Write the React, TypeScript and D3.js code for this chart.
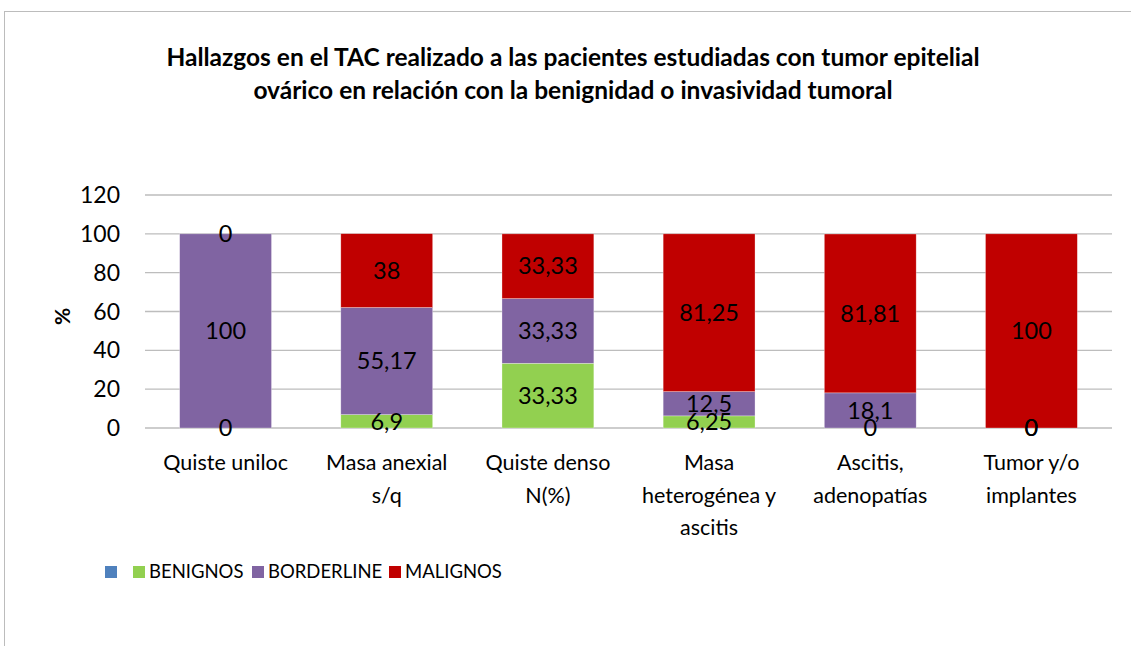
import React from 'react'
import * as d3 from 'd3'

const categories = [
  'Quiste uniloc',
  'Masa anexial s/q',
  'Quiste denso N(%)',
  'Masa heterogénea y ascitis',
  'Ascitis, adenopatías',
  'Tumor y/o implantes',
]
// how Excel wrapped the category labels
const categoryLines = [
  ['Quiste uniloc'],
  ['Masa anexial', 's/q'],
  ['Quiste denso', 'N(%)'],
  ['Masa', 'heterogénea y', 'ascitis'],
  ['Ascitis,', 'adenopatías'],
  ['Tumor y/o', 'implantes'],
]
const benignos = [0, 6.9, 33.33, 6.25, 0, 0]
const borderline = [100, 55.17, 33.33, 12.5, 18.1, 0]
const malignos = [0, 38, 33.33, 81.25, 81.81, 100]
const labelText = [
  ['0', '6,9', '33,33', '6,25', '0', '0'],
  ['100', '55,17', '33,33', '12,5', '18,1', '0'],
  ['0', '38', '33,33', '81,25', '81,81', '100'],
]
const seriesKeys = ['BENIGNOS', 'BORDERLINE', 'MALIGNOS']
const legendKeys = ['', 'BENIGNOS', 'BORDERLINE', 'MALIGNOS']
const yTicks = [0, 20, 40, 60, 80, 100, 120]

const colors: Record<string, string> = {
  '': '#4F81BD',
  BENIGNOS: '#92D050',
  BORDERLINE: '#8064A2',
  MALIGNOS: '#C00000',
}

const FONT = 'Lato, "Open Sans", sans-serif'

export default function App() {
  const width = 1131
  const height = 646

  const x = d3
    .scaleBand()
    .domain(categories)
    .range([145, 1112])
    .paddingInner(0.43)
    .paddingOuter(0.215)
  const y = d3.scaleLinear().domain([0, 120]).range([428, 195])

  const rows = categories.map((c, i) => ({
    cat: c,
    BENIGNOS: benignos[i],
    BORDERLINE: borderline[i],
    MALIGNOS: malignos[i],
  }))
  const stacked = d3.stack<any>().keys(seriesKeys)(rows)

  return (
    <svg
      width={width}
      height={height}
      style={{ position: 'absolute', left: 0, top: 0, background: '#fff' }}
      fontFamily={FONT}
    >
      <rect x={4.5} y={11.5} width={1200} height={800} fill="#fff" stroke="#bcbcbc" />

      <text textAnchor="middle" fontWeight="bold" fontSize={24.5} fill="#000">
        <tspan x={573} y={66}>
          Hallazgos en el TAC realizado a las pacientes estudiadas con tumor epitelial
        </tspan>
        <tspan x={573} y={99}>
          ovárico en relación con la benignidad o invasividad tumoral
        </tspan>
      </text>

      {yTicks.map((t) => (
        <g key={t}>
          <line x1={145} x2={1112} y1={y(t)} y2={y(t)} stroke="#bdbdbd" strokeWidth={1.3} />
          <text x={120} y={y(t)} dy="0.35em" textAnchor="end" fontSize={23} fill="#000">
            {t}
          </text>
        </g>
      ))}

      <text
        transform={`translate(63,${(y(0) + y(120)) / 2 + 5}) rotate(-90)`}
        textAnchor="middle"
        dy="0.35em"
        fontWeight="bold"
        fontSize={21}
      >
        %
      </text>

      {stacked.map((s) => (
        <g key={s.key}>
          {s.map((d, i) => (
            <rect
              key={i}
              x={x(categories[i])}
              width={x.bandwidth()}
              y={y(d[1])}
              height={Math.max(0, y(d[0]) - y(d[1]))}
              fill={colors[s.key]}
              stroke="#fff"
              strokeOpacity={0.5}
              strokeWidth={0.6}
            />
          ))}
        </g>
      ))}

      {stacked.map((s, si) => (
        <g key={'l' + s.key}>
          {s.map((d, i) => (
            <text
              key={i}
              x={(x(categories[i]) as number) + x.bandwidth() / 2}
              y={y((d[0] + d[1]) / 2)}
              dy="0.35em"
              textAnchor="middle"
              fontSize={23.5}
              fill="#000"
            >
              {labelText[si][i]}
            </text>
          ))}
        </g>
      ))}

      {categories.map((c, i) => (
        <text key={c} textAnchor="middle" fontSize={21.5} fill="#000">
          {categoryLines[i].map((ln, j) => (
            <tspan key={j} x={(x(c) as number) + x.bandwidth() / 2} y={470 + j * 32.5}>
              {ln}
            </tspan>
          ))}
        </text>
      ))}

      <g>
        {(() => {
          const xs = [105, 133, 252, 389]
          return legendKeys.map((k, i) => (
            <g key={i} transform={`translate(${xs[i]},566)`}>
              <rect width={12} height={12} fill={colors[k]} />
              <text x={16} y={6} dy="0.35em" fontSize={18.5} fill="#000">
                {k}
              </text>
            </g>
          ))
        })()}
      </g>
    </svg>
  )
}
